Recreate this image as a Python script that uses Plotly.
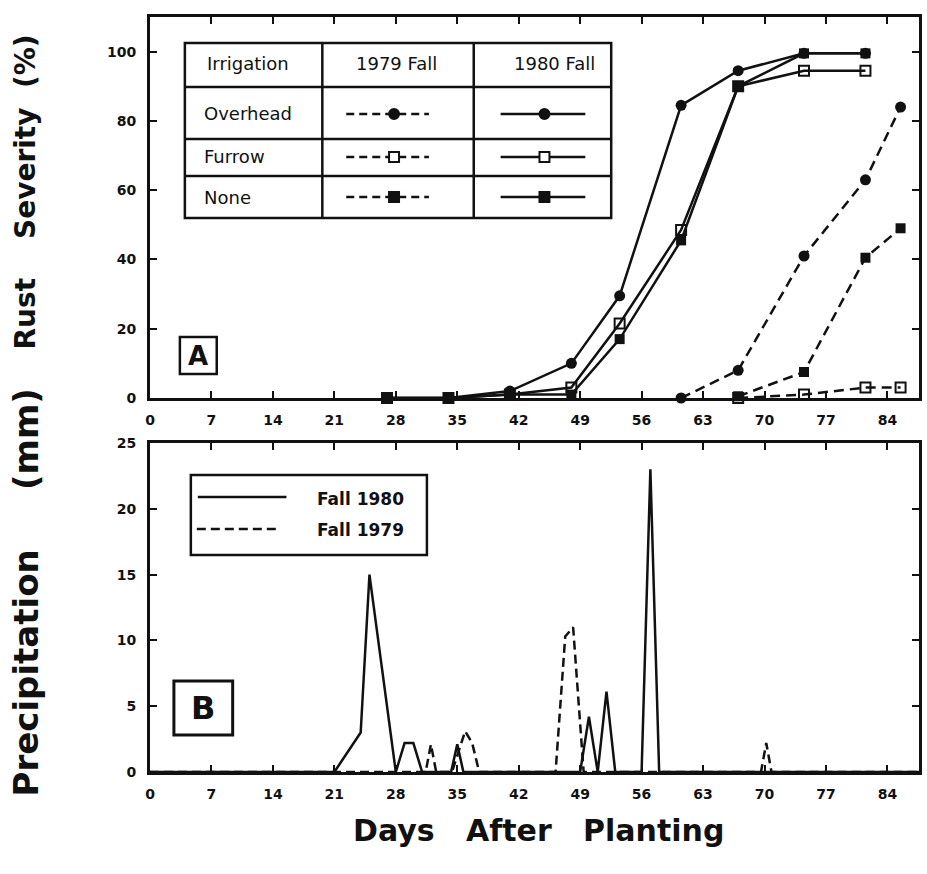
import plotly.graph_objects as go

# ---------------- Panel A data (Rust severity, %) ----------------
days_1980 = [27, 34, 41, 48, 53.5, 60.5, 67, 74.5, 81.5]
overhead_1980 = [0, 0, 2, 10, 29.5, 84.5, 94.5, 99.5, 99.5]
furrow_1980 = [0, 0, 1, 3, 21.5, 48.5, 90, 94.5, 94.5]
none_1980 = [0, 0, 1, 1, 17, 45.5, 90, 99.5, 99.5]

days_1979 = [60.5, 67, 74.5, 81.5, 85.5]
overhead_1979 = [0, 8, 41, 63, 84]
furrow_1979 = [None, 0, 1, 3, 3]
none_1979 = [None, 0.5, 7.5, 40.5, 49]

# ---------------- Panel B data (Precipitation, mm) ----------------
precip_days_1980 = [0, 21, 24, 25, 28, 29, 30, 31, 34.3, 35, 35.7, 49, 50, 51, 52, 53, 56, 57, 58, 87.6]
precip_1980 = [0, 0, 3, 15, 0, 2.2, 2.2, 0, 0, 2.1, 0, 0, 4.2, 0, 6.1, 0, 0, 23, 0, 0]
precip_days_1979 = [0, 31.4, 32, 32.6, 34.4, 35.9, 36.7, 37.5, 46.2, 47.3, 48.2, 49.4, 69.6, 70.2, 70.8, 87.6]
precip_1979 = [0, 0, 2.1, 0, 0, 3.1, 2.2, 0, 0, 10.3, 11, 0, 0, 2.2, 0, 0]

x_ticks = [0, 7, 14, 21, 28, 35, 42, 49, 56, 63, 70, 77, 84]
sev_ticks = [0, 20, 40, 60, 80, 100]
pre_ticks = [0, 5, 10, 15, 20, 25]

W, H = 927, 874
L, R, T, B = 150, 5, 17, 102
PW, PH = W - L - R, H - T - B

def px(x):
    return (x - L) / PW

def py(y):
    return (H - B - y) / PH

BLK = "#111111"
TICKFONT = dict(family="DejaVu Sans", size=14, color=BLK, weight="bold")

fig = go.Figure()

solid = dict(color=BLK, width=2.5)
dashed = dict(color=BLK, width=2.5, dash="10px,6px")
mk_fc = dict(symbol="circle", size=11, color=BLK)
mk_os = dict(symbol="square-open", size=10, color=BLK, line=dict(width=2, color=BLK))
mk_fs = dict(symbol="square", size=10, color=BLK)

for xs, ys, ln, mk, nm in [
    (days_1980, overhead_1980, solid, mk_fc, "Overhead 1980"),
    (days_1980, furrow_1980, solid, mk_os, "Furrow 1980"),
    (days_1980, none_1980, solid, mk_fs, "None 1980"),
    (days_1979, overhead_1979, dashed, mk_fc, "Overhead 1979"),
    (days_1979, furrow_1979, dashed, mk_os, "Furrow 1979"),
    (days_1979, none_1979, dashed, mk_fs, "None 1979"),
]:
    fig.add_trace(go.Scatter(x=xs, y=ys, mode="lines+markers", line=ln, marker=mk,
                             name=nm, showlegend=False, cliponaxis=False,
                             xaxis="x", yaxis="y"))

fig.add_trace(go.Scatter(x=precip_days_1980, y=precip_1980, mode="lines",
                         line=dict(color=BLK, width=2.5), name="Fall 1980",
                         showlegend=False, xaxis="x2", yaxis="y2"))
fig.add_trace(go.Scatter(x=precip_days_1979, y=precip_1979, mode="lines",
                         line=dict(color=BLK, width=2.5, dash="9px,5px"), name="Fall 1979",
                         showlegend=False, xaxis="x2", yaxis="y2"))

axis_common = dict(showline=True, linewidth=3, linecolor=BLK, mirror="ticks",
                   ticks="inside", ticklen=7, tickwidth=2, tickcolor=BLK,
                   showgrid=False, zeroline=False, tickfont=TICKFONT)

fig.update_layout(
    width=W, height=H,
    margin=dict(l=L, r=R, t=T, b=B),
    paper_bgcolor="white", plot_bgcolor="white",
    xaxis=dict(domain=[0, 1], anchor="y", range=[0, 87.6], tickvals=x_ticks,
               ticklabelstandoff=7, **axis_common),
    yaxis=dict(domain=[py(398), 1], anchor="x", range=[0, 110], tickvals=sev_ticks,
               ticklabelstandoff=8, **axis_common),
    xaxis2=dict(domain=[0, 1], anchor="y2", range=[0, 87.6], tickvals=x_ticks,
                ticklabelstandoff=7, **axis_common),
    yaxis2=dict(domain=[0, py(443)], anchor="x2", range=[0, 25], tickvals=pre_ticks,
                ticklabelstandoff=8, **axis_common),
)

shapes = []
annotations = []

def rect(x0, y0, x1, y1, w=2.5):
    shapes.append(dict(type="rect", xref="paper", yref="paper",
                       x0=px(x0), x1=px(x1), y0=py(y1), y1=py(y0),
                       line=dict(color=BLK, width=w), fillcolor="white", layer="above"))

def hline(x0, x1, y, w=2.5, dash="solid"):
    shapes.append(dict(type="line", xref="paper", yref="paper",
                       x0=px(x0), x1=px(x1), y0=py(y), y1=py(y),
                       line=dict(color=BLK, width=w, dash=dash)))

def vline(x, y0, y1, w=2.5):
    shapes.append(dict(type="line", xref="paper", yref="paper",
                       x0=px(x), x1=px(x), y0=py(y0), y1=py(y1),
                       line=dict(color=BLK, width=w)))

def marker(kind, x, y, s=10):
    h = s / 2
    d = dict(xref="paper", yref="paper", x0=px(x - h), x1=px(x + h),
             y0=py(y + h), y1=py(y - h), line=dict(color=BLK, width=2))
    if kind == "fc":
        d.update(type="circle", fillcolor=BLK)
    elif kind == "os":
        d.update(type="rect", fillcolor="white")
    else:
        d.update(type="rect", fillcolor=BLK)
    shapes.append(d)

def text(x, y, s, size=18, bold=False, anchor="left", family="DejaVu Sans", angle=0):
    annotations.append(dict(xref="paper", yref="paper", x=px(x), y=py(y), text=s,
                            showarrow=False, xanchor=anchor, yanchor="middle",
                            textangle=angle,
                            font=dict(family=family, size=size, color=BLK,
                                      weight="bold" if bold else "normal")))

# Panel A legend table
rect(185, 43, 613, 218)
vline(323, 43, 218)
vline(475, 43, 218)
hline(185, 613, 87)
hline(185, 613, 139)
hline(185, 613, 176)
text(205, 64, "Irrigation", 18)
text(397, 64, "1979 Fall", 18, anchor="center")
text(556, 64, "1980 Fall", 18, anchor="center")
rows = [("Overhead", 114, "fc"), ("Furrow", 157, "os"), ("None", 197, "fs")]
for lab, yy, kind in rows:
    text(202, yy, lab, 18)
    hline(347, 430, yy, w=2.5, dash="8px,5px")
    marker(kind, 395, yy)
    hline(502, 587, yy, w=2.5)
    marker(kind, 546, yy)

# Panel A label box
rect(180, 337, 217, 374)
text(198.5, 356, "A", 26, bold=True, anchor="center")

# Panel B legend
rect(191, 475, 428, 555)
hline(198, 287, 497, w=2.5)
hline(197, 280, 529, w=2.5, dash="9px,5px")
text(316, 499, "Fall 1980", 17, bold=True)
text(316, 530, "Fall 1979", 17, bold=True)

# Panel B label box
rect(174, 681, 233, 735, w=3)
text(203.5, 708, "B", 32, bold=True, anchor="center")

# Axis titles
NB2 = "\u00a0\u00a0"
NB4 = "\u00a0\u00a0\u00a0\u00a0"
NB5 = "\u00a0\u00a0\u00a0\u00a0\u00a0"
text(26, 192, "Rust" + NB4 + "Severity" + NB2 + "(%)", 28, bold=True, anchor="center", angle=-90)
text(26, 592, "Precipitation" + NB5 + "(mm)", 34, bold=True, anchor="center", angle=-90)
text(540, 831, "Days" + "\u00a0\u00a0\u00a0" + "After" + "\u00a0\u00a0\u00a0" + "Planting", 30, bold=True, anchor="center")

fig.update_layout(shapes=shapes, annotations=annotations)

fig.write_html("out.html", config={"displayModeBar": False},
               post_script="document.body.style.margin='0';")
